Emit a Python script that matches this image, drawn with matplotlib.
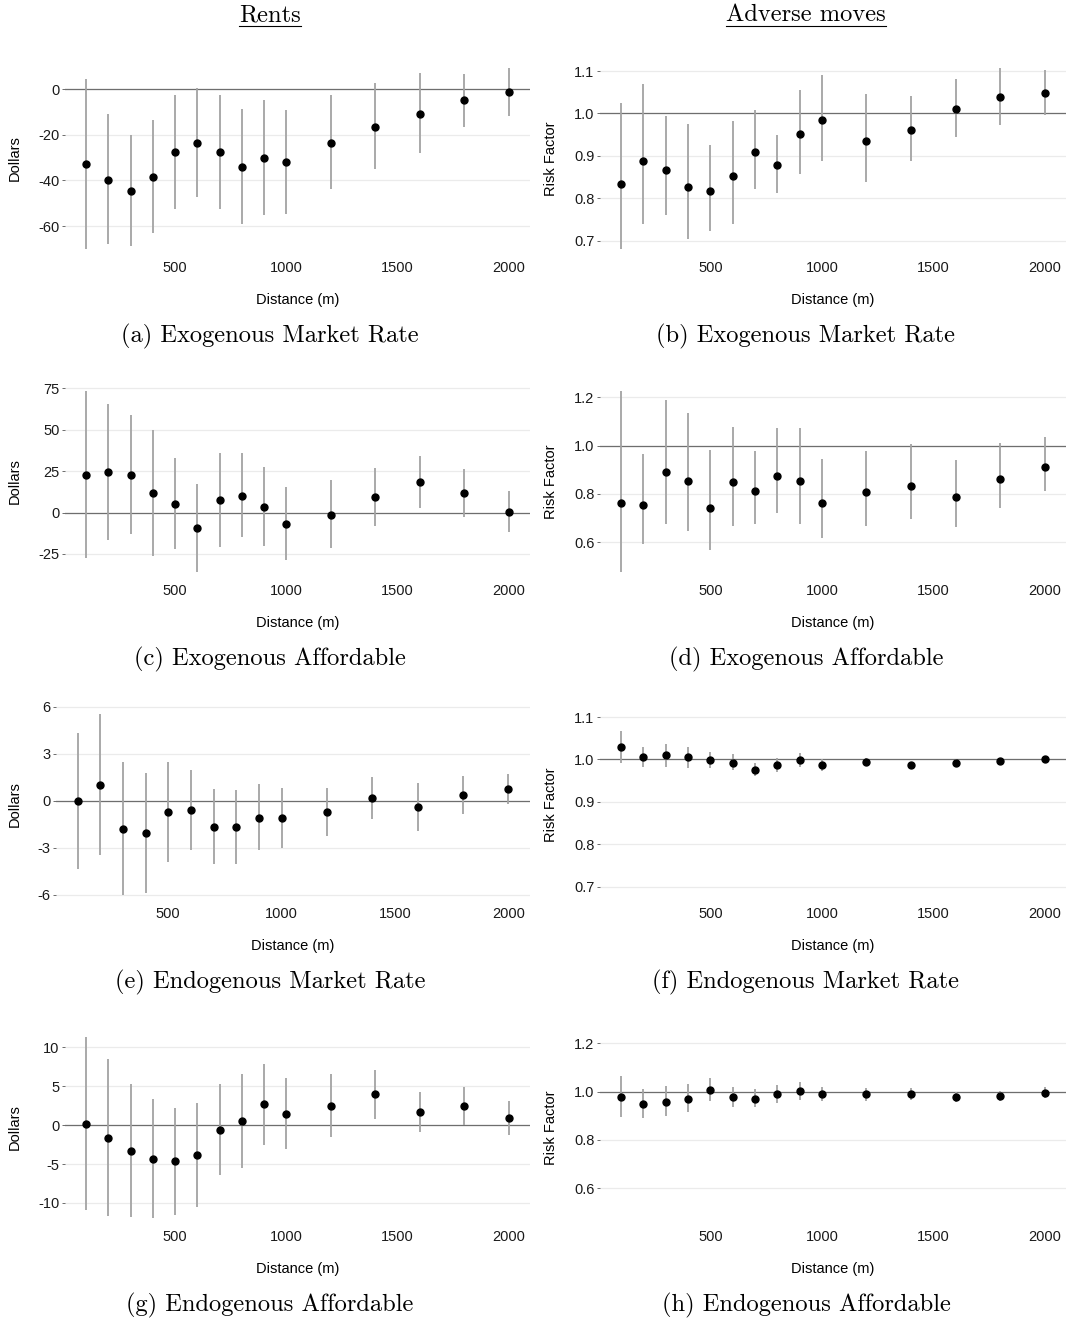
import numpy as np
import matplotlib
matplotlib.use("Agg")
import matplotlib.pyplot as plt
from matplotlib.lines import Line2D
from matplotlib.ticker import FormatStrFormatter, FixedLocator

plt.rcParams['font.family'] = ['Liberation Sans', 'DejaVu Sans']
plt.rcParams['axes.unicode_minus'] = False

distance = [100, 200, 300, 400, 500, 600, 700, 800, 900, 1000, 1200, 1400, 1600, 1800, 2000]

# (a) Rents, exogenous market rate
rent_exo_mr = [-33.0, -39.7, -44.5, -38.5, -27.6, -23.5, -27.4, -34.0, -30.1, -32.0, -23.4, -16.5, -10.8, -5.0, -1.3]
rent_exo_mr_lo = [-70.0, -67.9, -68.5, -62.9, -52.4, -47.4, -52.3, -59.1, -55.3, -54.9, -43.9, -35.2, -27.9, -16.6, -11.7]
rent_exo_mr_hi = [4.4, -11.1, -20.3, -13.7, -2.6, 0.6, -2.6, -8.9, -4.8, -9.2, -2.5, 2.5, 6.9, 6.6, 9.2]

# (b) Adverse moves, exogenous market rate
risk_exo_mr = [0.834, 0.889, 0.868, 0.827, 0.818, 0.852, 0.910, 0.878, 0.952, 0.984, 0.935, 0.962, 1.010, 1.038, 1.048]
risk_exo_mr_lo = [0.681, 0.739, 0.762, 0.704, 0.724, 0.739, 0.823, 0.813, 0.858, 0.889, 0.838, 0.888, 0.944, 0.973, 0.997]
risk_exo_mr_hi = [1.024, 1.069, 0.994, 0.976, 0.925, 0.982, 1.008, 0.949, 1.056, 1.090, 1.045, 1.042, 1.081, 1.107, 1.102]

# (c) Rents, exogenous affordable
rent_exo_af = [22.8, 24.2, 22.8, 11.5, 5.4, -9.5, 7.5, 9.9, 3.4, -6.7, -1.2, 9.3, 18.3, 11.7, 0.6]
rent_exo_af_lo = [-27.6, -16.3, -13.1, -26.2, -21.8, -35.9, -20.8, -14.7, -20.2, -28.8, -21.4, -8.3, 3.0, -3.0, -11.7]
rent_exo_af_hi = [73.4, 65.3, 58.9, 49.8, 33.2, 17.3, 35.9, 35.7, 27.6, 15.5, 19.6, 27.0, 34.1, 26.6, 13.3]

# (d) Adverse moves, exogenous affordable
risk_exo_af = [0.761, 0.753, 0.892, 0.855, 0.743, 0.848, 0.810, 0.874, 0.852, 0.761, 0.806, 0.833, 0.788, 0.863, 0.913]
risk_exo_af_lo = [0.476, 0.592, 0.673, 0.647, 0.567, 0.668, 0.673, 0.719, 0.673, 0.615, 0.668, 0.694, 0.662, 0.743, 0.810]
risk_exo_af_hi = [1.226, 0.966, 1.188, 1.135, 0.982, 1.079, 0.977, 1.072, 1.074, 0.946, 0.977, 1.006, 0.941, 1.010, 1.034]

# (e) Rents, endogenous market rate
rent_endo_mr = [0.0, 1.04, -1.78, -2.03, -0.72, -0.59, -1.63, -1.67, -1.06, -1.10, -0.72, 0.19, -0.36, 0.40, 0.76]
rent_endo_mr_lo = [-4.36, -3.45, -6.0, -5.85, -3.90, -3.16, -4.03, -4.03, -3.14, -3.0, -2.25, -1.14, -1.89, -0.81, -0.21]
rent_endo_mr_hi = [4.36, 5.55, 2.48, 1.78, 2.48, 1.99, 0.78, 0.72, 1.06, 0.85, 0.85, 1.50, 1.14, 1.59, 1.72]

# (f) Adverse moves, endogenous market rate
risk_endo_mr = [1.029, 1.005, 1.010, 1.005, 0.998, 0.992, 0.976, 0.988, 0.998, 0.988, 0.995, 0.986, 0.991, 0.996, 1.000]
risk_endo_mr_lo = [0.992, 0.983, 0.983, 0.981, 0.979, 0.975, 0.961, 0.971, 0.983, 0.973, 0.986, 0.977, 0.982, 0.988, 0.992]
risk_endo_mr_hi = [1.066, 1.029, 1.037, 1.030, 1.018, 1.012, 0.992, 1.004, 1.016, 1.002, 1.004, 0.995, 1.000, 1.004, 1.008]

# (g) Rents, endogenous affordable
rent_endo_af = [0.13, -1.62, -3.33, -4.36, -4.66, -3.85, -0.60, 0.51, 2.65, 1.37, 2.44, 3.93, 1.62, 2.44, 0.90]
rent_endo_af_lo = [-10.9, -11.67, -11.84, -11.92, -11.54, -10.47, -6.41, -5.51, -2.56, -3.12, -1.58, 0.77, -0.94, 0.0, -1.32]
rent_endo_af_hi = [11.3, 8.46, 5.26, 3.38, 2.22, 2.82, 5.26, 6.54, 7.86, 5.98, 6.54, 7.05, 4.27, 4.91, 3.12]

# (h) Adverse moves, endogenous affordable
risk_endo_af = [0.977, 0.948, 0.956, 0.970, 1.007, 0.977, 0.971, 0.988, 1.001, 0.990, 0.988, 0.988, 0.978, 0.981, 0.993]
risk_endo_af_lo = [0.895, 0.890, 0.900, 0.915, 0.960, 0.936, 0.936, 0.952, 0.967, 0.962, 0.962, 0.966, 0.956, 0.959, 0.974]
risk_endo_af_hi = [1.066, 1.011, 1.022, 1.032, 1.056, 1.018, 1.011, 1.027, 1.041, 1.018, 1.015, 1.014, 0.997, 1.001, 1.018]

column_titles = ['Rents', 'Adverse moves']
captions = ['(a) Exogenous Market Rate', '(b) Exogenous Market Rate',
            '(c) Exogenous Affordable', '(d) Exogenous Affordable',
            '(e) Endogenous Market Rate', '(f) Endogenous Market Rate',
            '(g) Endogenous Affordable', '(h) Endogenous Affordable']
x_ticks = [500, 1000, 1500, 2000]
rent_ticks = [[-60, -40, -20, 0], [-25, 0, 25, 50, 75], [-6, -3, 0, 3, 6], [-10, -5, 0, 5, 10]]
risk_ticks = [[0.7, 0.8, 0.9, 1.0, 1.1], [0.6, 0.8, 1.0, 1.2], [0.7, 0.8, 0.9, 1.0, 1.1], [0.6, 0.8, 1.0, 1.2]]

rent_series = [(rent_exo_mr, rent_exo_mr_lo, rent_exo_mr_hi), (rent_exo_af, rent_exo_af_lo, rent_exo_af_hi),
               (rent_endo_mr, rent_endo_mr_lo, rent_endo_mr_hi), (rent_endo_af, rent_endo_af_lo, rent_endo_af_hi)]
risk_series = [(risk_exo_mr, risk_exo_mr_lo, risk_exo_mr_hi), (risk_exo_af, risk_exo_af_lo, risk_exo_af_hi),
               (risk_endo_mr, risk_endo_mr_lo, risk_endo_mr_hi), (risk_endo_af, risk_endo_af_lo, risk_endo_af_hi)]

W, H = 1067, 1320
fig = plt.figure(figsize=(W / 100, H / 100), dpi=100)

row_tops = [59, 382, 705, 1028]
ax_h = 199
left_cols = [(65, 530), (65, 530), (56, 530), (65, 530)]
right_col = (600, 1066)
col_centers = [270, 806]


def draw_panel(ax, x, est, lo, hi, ref, ticks, ylabel, fmt):
    est = np.array(est)
    yerr = [est - np.array(lo), np.array(hi) - est]
    for s in ax.spines.values():
        s.set_visible(False)
    ax.grid(axis='y', color='#ebebeb', lw=0.9)
    ax.set_axisbelow(True)
    ax.axhline(ref, color='#6e6e6e', lw=0.9, zorder=1)
    ax.errorbar(x, est, yerr=yerr, fmt='o', color='black', ms=5,
                ecolor='#a3a3a3', elinewidth=1.3, capsize=0, zorder=3)
    ax.xaxis.set_major_locator(FixedLocator(x_ticks))
    ax.yaxis.set_major_locator(FixedLocator(ticks))
    ax.yaxis.set_major_formatter(FormatStrFormatter(fmt))
    ax.tick_params(axis='x', length=0, pad=2.5, labelsize=10.5, labelcolor='#1a1a1a')
    ax.tick_params(axis='y', length=2.5, width=0.6, color='#555555', pad=1.5,
                   labelsize=10.5, labelcolor='#1a1a1a')
    ax.set_xlabel('Distance (m)', fontsize=10.5)
    ax.set_ylabel(ylabel, fontsize=10.5)


risk_axes = []
for r in range(4):
    top = row_tops[r]
    bottom = 1 - (top + ax_h) / H
    # left column: rents
    x0, x1 = left_cols[r]
    axl = fig.add_axes([x0 / W, bottom, (x1 - x0) / W, ax_h / H])
    est, lo, hi = rent_series[r]
    draw_panel(axl, distance, est, lo, hi, 0, rent_ticks[r], 'Dollars', '%d')
    axl.yaxis.set_label_coords(-(x0 - 15) / (x1 - x0), 0.5)
    # right column: adverse moves
    x0, x1 = right_col
    axr = fig.add_axes([x0 / W, bottom, (x1 - x0) / W, ax_h / H])
    est, lo, hi = risk_series[r]
    draw_panel(axr, distance, est, lo, hi, 1, risk_ticks[r], 'Risk Factor', '%.1f')
    axr.yaxis.set_label_coords(-(x0 - 551) / (x1 - x0), 0.5)
    risk_axes.append(axr)
    for ax in (axl, axr):
        ax.xaxis.set_label_coords(0.5, -42 / ax_h)
        ax.xaxis.label.set_va('center')
        ax.yaxis.label.set_va('center')
    fig.text(col_centers[0] / W, 1 - (336 + r * 323) / H, captions[2 * r],
             family='cmr10', fontsize=17.6, ha='center', va='center')
    fig.text(col_centers[1] / W, 1 - (336 + r * 323) / H, captions[2 * r + 1],
             family='cmr10', fontsize=17.6, ha='center', va='center')

# endogenous panels reuse the scale of the exogenous ones
risk_axes[2].set_ylim(risk_axes[0].get_ylim())
risk_axes[3].set_ylim(risk_axes[1].get_ylim())

titles = []
for c in range(2):
    t = fig.text(col_centers[c] / W, 1 - 15 / H, column_titles[c],
                 family='cmr10', fontsize=17.6, ha='center', va='center')
    titles.append(t)

fig.canvas.draw()
renderer = fig.canvas.get_renderer()
for t in titles:
    bb = t.get_window_extent(renderer)
    yline = bb.y0 / fig.bbox.height
    fig.add_artist(Line2D([bb.x0 / fig.bbox.width, bb.x1 / fig.bbox.width], [yline, yline],
                          transform=fig.transFigure, color='black', lw=0.8))

fig.savefig('out.png', dpi=100)
